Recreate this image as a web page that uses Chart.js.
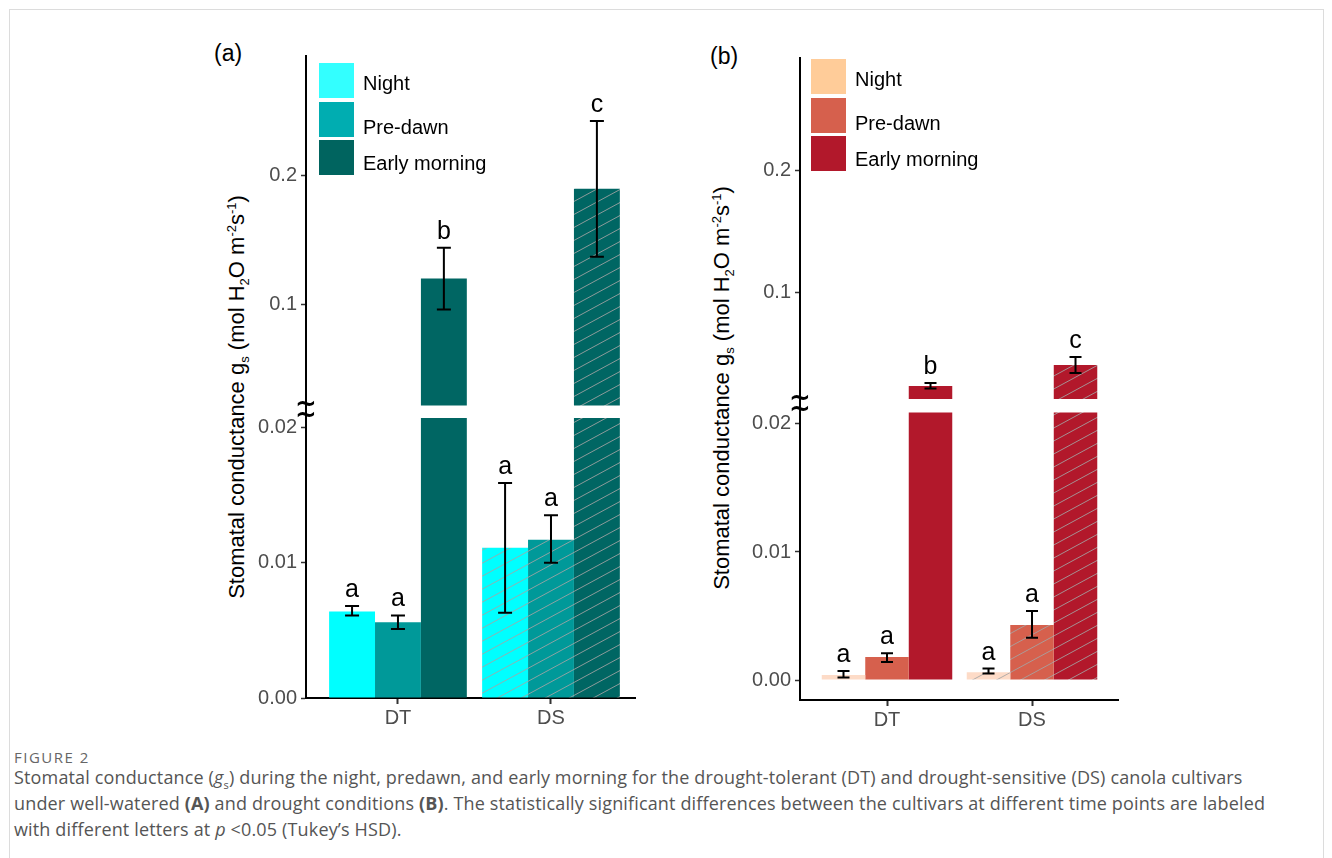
<!DOCTYPE html>
<html>
<head>
<meta charset="utf-8">
<script src="https://cdn.jsdelivr.net/npm/chart.js@4/dist/chart.umd.min.js"></script>
<style>
  body { margin: 0; background: #fff; width: 1332px; height: 858px; position: relative; overflow: hidden;
         font-family: "Liberation Sans", Arial, sans-serif; }
  .frame { position: absolute; left: 9px; top: 9px; width: 1313px; height: 900px; border: 1px solid #dcdcdc; }
  .box { position: absolute; }
  .tag { position: absolute; font-size: 23px; color: #000; }
  .ytitle { position: absolute; white-space: nowrap; font-size: 22px; color: #000;
            transform: translate(-50%, -50%) rotate(-90deg); }
  .ytitle sub, .ytitle sup { font-size: 13px; line-height: 0; }
  .leg { position: absolute; }
  .leg .sw { position: absolute; width: 35px; height: 35px; }
  .leg .lb { position: absolute; font-size: 20px; color: #000; white-space: nowrap; transform: translateY(-50%); }
  .figno { position: absolute; left: 14px; top: 747px; font-family: "Open Sans", sans-serif; font-size: 15px;
           letter-spacing: 1.5px; color: #666; }
  .caption { position: absolute; left: 14px; top: 764px; font-family: "Open Sans", sans-serif; font-size: 18px;
             letter-spacing: 0.15px; line-height: 26px; color: #555; white-space: nowrap; }
  .caption sub { font-size: 11px; line-height: 0; }
</style>
</head>
<body>
<div class="frame"></div>

<div class="tag" style="left:214px;top:40px">(a)</div>
<div class="tag" style="left:710px;top:43px">(b)</div>

<div class="ytitle" style="left:237px;top:397px">Stomatal conductance g<sub>s</sub> (mol H<sub>2</sub>O m<sup>-2</sup>s<sup>-1</sup>)</div>
<div class="ytitle" style="left:722px;top:388px">Stomatal conductance g<sub>s</sub> (mol H<sub>2</sub>O m<sup>-2</sup>s<sup>-1</sup>)</div>

<div class="box" style="left:200px;top:40px"><canvas id="chartA" width="450" height="700"></canvas></div>
<div class="box" style="left:690px;top:40px"><canvas id="chartB" width="450" height="700"></canvas></div>

<div class="leg" id="legA" style="left:319px;top:63px"></div>
<div class="leg" id="legB" style="left:811px;top:59px"></div>

<div class="figno">FIGURE 2</div>
<div class="caption">Stomatal conductance (<i>g</i><sub>s</sub>) during the night, predawn, and early morning for the drought-tolerant (DT) and drought-sensitive (DS) canola cultivars<br>under well-watered <b>(A)</b> and drought conditions <b>(B)</b>. The statistically significant differences between the cultivars at different time points are labeled<br>with different letters at <i>p</i> &lt;0.05 (Tukey’s HSD).</div>

<script>
const categories = ["DT", "DS"];
const seriesNames = ["Night", "Pre-dawn", "Early morning"];

// (a) well-watered
const nightA = [0.0064, 0.0111];
const predawnA = [0.0056, 0.0117];
const morningA = [0.1202, 0.1900];
const nightErrA = [[0.0061, 0.0068], [0.0063, 0.0159]];
const predawnErrA = [[0.0051, 0.0061], [0.0100, 0.0135]];
const morningErrA = [[0.0961, 0.1442], [0.1372, 0.2426]];
const lettersA = [["a", "a"], ["a", "a"], ["b", "c"]];
const lowTicksA = [0, 0.01, 0.02];
const lowTickLabelsA = ["0.00", "0.01", "0.02"];
const upTicksA = [0.1, 0.2];
const upTickLabelsA = ["0.1", "0.2"];

// (b) drought
const nightB = [0.0004, 0.0006];
const predawnB = [0.0018, 0.0043];
const morningB = [0.0244, 0.0415];
const nightErrB = [[0.0002, 0.0007], [0.0005, 0.0009]];
const predawnErrB = [[0.0014, 0.0021], [0.0033, 0.0054]];
const morningErrB = [[0.0223, 0.0268], [0.0350, 0.0480]];
const lettersB = [["a", "a"], ["a", "a"], ["b", "c"]];
const lowTicksB = [0, 0.01, 0.02];
const lowTickLabelsB = ["0.00", "0.01", "0.02"];
const upTicksB = [0.1, 0.2];
const upTickLabelsB = ["0.1", "0.2"];

const colorsA = ["#00ffff", "#009999", "#006663"];
const legendColorsA = ["#33ffff", "#00adb1", "#00645f"];
const colorsB = ["#fddbc7", "#d6604d", "#b2182b"];
const legendColorsB = ["#ffcc99", "#d6604d", "#b2182b"];

function hatch(color) {
  const cv = document.createElement("canvas");
  cv.width = 24; cv.height = 13;
  const g = cv.getContext("2d");
  g.fillStyle = color;
  g.fillRect(0, 0, 24, 13);
  g.strokeStyle = "rgba(165,165,165,0.85)";
  g.lineWidth = 1;
  for (const k of [-13, 0, 13]) {
    g.beginPath();
    g.moveTo(0, 13 + k);
    g.lineTo(24, k);
    g.stroke();
  }
  return g.createPattern(cv, "repeat");
}

function makeLegend(id, colors) {
  const el = document.getElementById(id);
  const labelY = [20, 64, 100];
  seriesNames.forEach((name, i) => {
    const sw = document.createElement("div");
    sw.className = "sw";
    sw.style.top = (i * 38.5) + "px";
    sw.style.background = colors[i];
    el.appendChild(sw);
    const lb = document.createElement("div");
    lb.className = "lb";
    lb.style.left = "44px";
    lb.style.top = labelY[i] + "px";
    lb.textContent = name;
    el.appendChild(lb);
  });
}

function makePanel(canvasId, p) {
  const series = [p.night, p.predawn, p.morning];
  const errs = [p.nightErr, p.predawnErr, p.morningErr];
  const stacks = ["n", "p", "e"];
  const datasets = [];

  series.forEach((vals, s) => {
    datasets.push({
      label: seriesNames[s],
      yAxisID: "yLow",
      stack: stacks[s],
      data: vals.map((v, i) => ({ x: i + 1, y: [0, Math.min(v, p.lowCut)] })),
      backgroundColor: (ctx) => ctx.dataIndex === 1 ? hatch(p.colors[s]) : p.colors[s],
      borderWidth: 0,
    });
  });
  series.forEach((vals, s) => {
    datasets.push({
      label: seriesNames[s] + " upper",
      yAxisID: "yUp",
      stack: stacks[s],
      data: vals.map((v, i) => ({ x: i + 1, y: v > p.upStart ? [p.upStart, v] : null })),
      backgroundColor: (ctx) => ctx.dataIndex === 1 ? hatch(p.colors[s]) : p.colors[s],
      borderWidth: 0,
    });
  });

  const tickFont = { family: "Liberation Sans", size: 20 };

  const annotate = {
    id: "annotate",
    afterDatasetsDraw(chart) {
      const c = chart.ctx;
      const yLow = chart.scales.yLow;
      const yUp = chart.scales.yUp;
      c.save();
      c.strokeStyle = "#000";
      c.fillStyle = "#000";
      c.lineWidth = 2;
      c.font = "25px 'Liberation Sans'";
      c.textAlign = "center";
      c.textBaseline = "alphabetic";
      series.forEach((vals, s) => {
        const meta = chart.getDatasetMeta(s);
        vals.forEach((v, i) => {
          const x = meta.data[i].x;
          const sc = v > p.upStart ? yUp : yLow;
          const top = sc.getPixelForValue(errs[s][i][1]);
          const bot = sc.getPixelForValue(errs[s][i][0]);
          c.beginPath();
          c.moveTo(x, top); c.lineTo(x, bot);
          c.moveTo(x - p.cap, top); c.lineTo(x + p.cap, top);
          c.moveTo(x - p.cap, bot); c.lineTo(x + p.cap, bot);
          c.stroke();
          c.fillText(p.letters[s][i], x, top - 9);
        });
      });
      // axis break mark
      const bx = chart.chartArea.left;
      const by = yLow.top;
      c.font = "bold 26px 'DejaVu Sans'";
      c.textBaseline = "middle";
      c.fillText("~", bx, by - 6);
      c.fillText("~", bx, by + 5);
      c.restore();
    },
  };

  return new Chart(document.getElementById(canvasId), {
    type: "bar",
    data: { datasets: datasets },
    plugins: [annotate],
    options: {
      responsive: false,
      animation: false,
      categoryPercentage: 0.9,
      barPercentage: 1.0,
      layout: { padding: { left: 0, right: p.padRight, top: p.padTop, bottom: 0 } },
      plugins: { legend: { display: false }, tooltip: { enabled: false } },
      scales: {
        x: {
          type: "linear",
          min: p.xMin,
          max: p.xMax,
          offset: false,
          afterBuildTicks: (s) => { s.ticks = categories.map((c, i) => ({ value: i + 1 })); },
          afterFit: (s) => { s.height = p.xHeight; },
          ticks: {
            callback: (v, i) => categories[i],
            font: tickFont, color: "#4d4d4d", padding: 2, maxRotation: 0, autoSkip: false,
          },
          grid: { offset: false, drawOnChartArea: false, tickLength: 6, tickColor: "#333", tickWidth: 2 },
          border: { color: "#000", width: 2 },
        },
        yLow: {
          type: "linear",
          position: "left",
          stack: "brk",
          stackWeight: p.lowWeight,
          stacked: false,
          min: p.lowMin,
          max: p.lowMax,
          afterBuildTicks: (s) => { s.ticks = p.lowTicks.map((v) => ({ value: v })); },
          afterFit: (s) => { s.width = p.yWidth; },
          ticks: { callback: (v, i) => p.lowTickLabels[i], font: tickFont, color: "#4d4d4d", padding: 4 },
          grid: { drawOnChartArea: false, tickLength: 5, tickColor: "#333", tickWidth: 1.5 },
          border: { color: "#000", width: 2 },
        },
        yUp: {
          type: "linear",
          position: "left",
          stack: "brk",
          stackWeight: p.upWeight,
          stacked: false,
          min: p.upMin,
          max: p.upMax,
          afterBuildTicks: (s) => { s.ticks = p.upTicks.map((v) => ({ value: v })); },
          afterFit: (s) => { s.width = p.yWidth; },
          ticks: { callback: (v, i) => p.upTickLabels[i], font: tickFont, color: "#4d4d4d", padding: 4 },
          grid: { drawOnChartArea: false, tickLength: 5, tickColor: "#333", tickWidth: 1.5 },
          border: { color: "#000", width: 2 },
        },
      },
    },
  });
}

makePanel("chartA", {
  night: nightA, predawn: predawnA, morning: morningA,
  nightErr: nightErrA, predawnErr: predawnErrA, morningErr: morningErrA,
  letters: lettersA, colors: colorsA,
  lowTicks: lowTicksA, lowTickLabels: lowTickLabelsA, upTicks: upTicksA, upTickLabels: upTickLabelsA,
  lowMin: 0, lowMax: 0.02118, upMin: 0.01705, upMax: 0.293,
  lowCut: 0.0207, upStart: 0.0217,
  lowWeight: 287, upWeight: 356,
  xMin: 0.399, xMax: 2.549,
  padRight: 15, padTop: 15, yWidth: 106, xHeight: 42, cap: 7,
});

makePanel("chartB", {
  night: nightB, predawn: predawnB, morning: morningB,
  nightErr: nightErrB, predawnErr: predawnErrB, morningErr: morningErrB,
  letters: lettersB, colors: colorsB,
  lowTicks: lowTicksB, lowTickLabels: lowTickLabelsB, upTicks: upTicksB, upTickLabels: upTickLabelsB,
  lowMin: -0.00156, lowMax: 0.02148, upMin: 0.0089, upMax: 0.2911,
  lowCut: 0.0209, upStart: 0.0138,
  lowWeight: 295, upWeight: 347,
  xMin: 0.4, xMax: 2.593,
  padRight: 22, padTop: 18, yWidth: 110, xHeight: 40, cap: 6,
});

makeLegend("legA", legendColorsA);
makeLegend("legB", legendColorsB);
</script>
</body>
</html>
